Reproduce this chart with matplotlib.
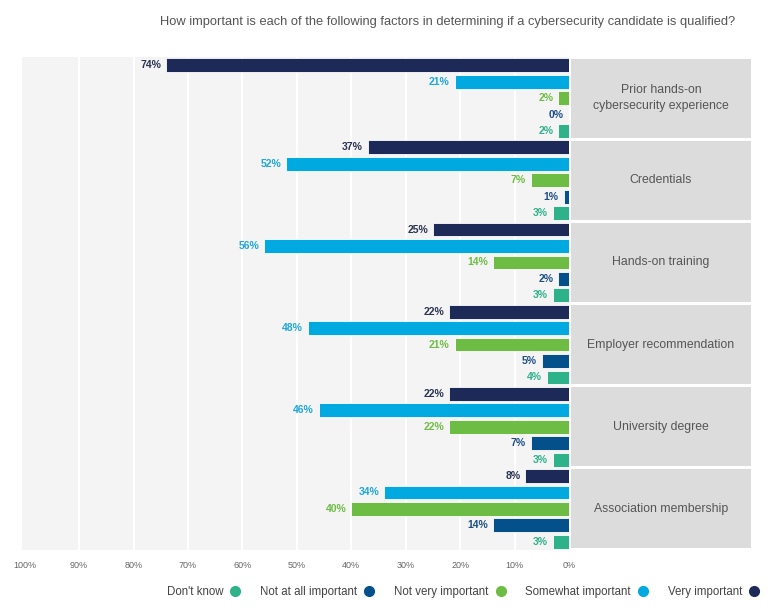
import matplotlib
matplotlib.use('Agg')
import matplotlib.pyplot as plt
from matplotlib.lines import Line2D
from matplotlib.patches import Rectangle

plt.rcParams['font.family'] = ['Liberation Sans', 'DejaVu Sans']

title = 'How important is each of the following factors in determining if a cybersecurity candidate is qualified?'
categories = ['Prior hands-on\ncybersecurity experience', 'Credentials', 'Hands-on training',
              'Employer recommendation', 'University degree', 'Association membership']
series = ['Very important', 'Somewhat important', 'Not very important',
          'Not at all important', "Don't know"]
values = [
    [74, 21, 2, 0, 2],
    [37, 52, 7, 1, 3],
    [25, 56, 14, 2, 3],
    [22, 48, 21, 5, 4],
    [22, 46, 22, 7, 3],
    [8, 34, 40, 14, 3],
]
ticks = [0, 10, 20, 30, 40, 50, 60, 70, 80, 90, 100]
colors = ['#1d2a57', '#00a9e0', '#6dbd45', '#03508a', '#2db28a']
label_colors = ['#2b3350', '#1fa7d8', '#6dbd45', '#1d4f86', '#2db28a']

W, H = 771, 610
fig = plt.figure(figsize=(W / 100, H / 100), dpi=100)

top, bottom = 57, 550
ax = fig.add_axes([22 / W, 1 - bottom / H, (569 - 22) / W, (bottom - top) / H])
ax.set_facecolor('#f4f4f4')
nser = len(series)
for c, row in enumerate(values):
    for s, v in enumerate(row):
        y = c * nser + s + 0.5
        ax.barh(y, v, height=0.84, color=colors[s], edgecolor='white', linewidth=0.6, zorder=3)
        ax.text(v + 0.9, y, '%d%%' % v, ha='right', va='center', fontsize=7.5,
                fontweight='bold', color=label_colors[s], zorder=4)
ax.set_xlim(100.5, 0)
ax.set_ylim(len(categories) * nser, 0)
ax.set_xticks(ticks)
ax.set_xticklabels(['%d%%' % t for t in ticks], fontsize=6.5, color='#666666')
ax.set_yticks([])
ax.tick_params(axis='x', length=0, pad=8)
for t in ticks[1:-1]:
    ax.axvline(t, color='white', lw=1.5, zorder=1)
for sp in ax.spines.values():
    sp.set_visible(False)

# category panel
pax = fig.add_axes([571 / W, 1 - bottom / H, (751 - 571) / W, (bottom - top) / H])
pax.set_xlim(0, 1)
pax.set_ylim(len(categories) * nser, 0)
pax.axis('off')
for c, name in enumerate(categories):
    pax.add_patch(Rectangle((0, c * nser + 0.1), 1, nser - 0.2, color='#dcdcdd', lw=0))
    pax.text(0.5, c * nser + nser / 2, name, ha='center', va='center', fontsize=8.8,
             color='#555555', linespacing=1.5)

fig.text(735 / W, 1 - 22 / H, title, ha='right', va='center', fontsize=9.3, color='#555555')

handles = [Line2D([], [], marker='o', ls='', markersize=7, color=colors[s]) for s in range(nser)]
order = list(range(nser))[::-1]
fig.legend([handles[i] for i in order], [series[i] for i in order], loc='center right',
           bbox_to_anchor=(766 / W, 1 - 592 / H), ncol=nser, frameon=False, markerfirst=False,
           fontsize=8.3, handletextpad=0.05, columnspacing=1.15, labelcolor='#444444',
           borderpad=0, borderaxespad=0)

fig.savefig('out.png', dpi=100)
